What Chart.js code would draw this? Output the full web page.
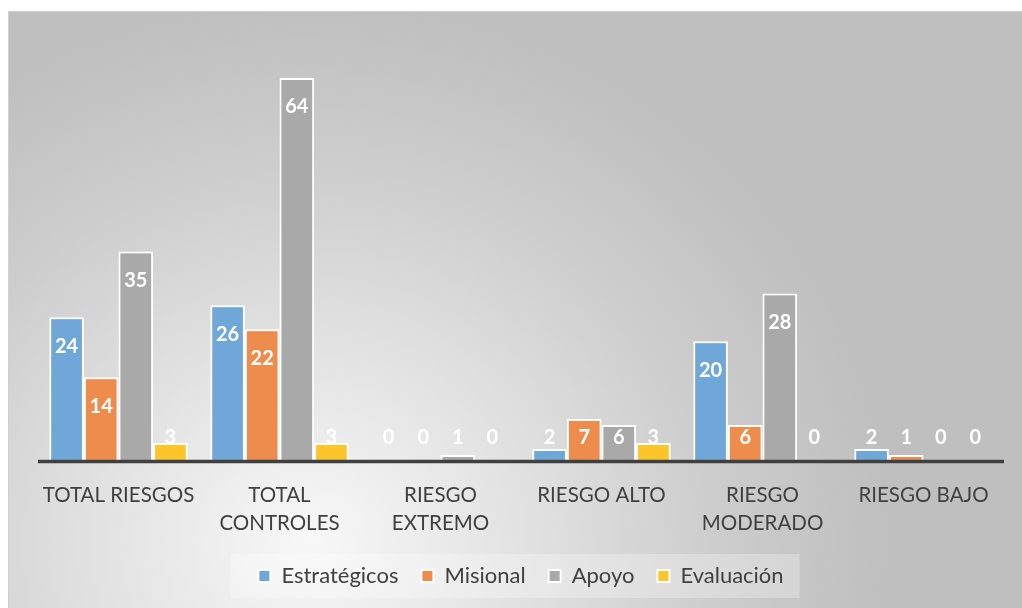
<!DOCTYPE html>
<html>
<head>
<meta charset="utf-8">
<script src="https://cdn.jsdelivr.net/npm/chart.js@4.4.1/dist/chart.umd.min.js"></script>
<style>
  html, body { margin: 0; padding: 0; background: #ffffff; }
  #wrap {
    position: absolute; left: 8px; top: 11px; width: 1014px; height: 597px;
    box-sizing: border-box;
    border-left: 1px solid #d0d0d0; border-top: 1px solid #d0d0d0;
    background: radial-gradient(ellipse 580px 540px at 300px 530px, #f8f8f8 0%, #e3e3e3 35%, #cdcdcd 70%, #bfbfbf 100%);
    background-color: #bfbfbf;
  }
  canvas { display: block; }
</style>
</head>
<body>
<div id="wrap"><canvas id="c" width="1013" height="596"></canvas></div>
<script>
const categories = [
  'TOTAL RIESGOS',
  ['TOTAL', 'CONTROLES'],
  ['RIESGO', 'EXTREMO'],
  'RIESGO ALTO',
  ['RIESGO', 'MODERADO'],
  'RIESGO BAJO'
];
const seriesNames = ['Estratégicos', 'Misional', 'Apoyo', 'Evaluación'];
const estrategicos = [24, 26, 0, 2, 20, 2];
const misional     = [14, 22, 0, 7, 6, 1];
const apoyo        = [35, 64, 1, 6, 28, 0];
const evaluacion   = [3, 3, 0, 3, 0, 0];
const seriesColors = ['#6fa7d8', '#ee8c4d', '#a9a9a9', '#fcc52a'];

const allSeries = [estrategicos, misional, apoyo, evaluacion];

const legendBg = {
  id: 'legendBg',
  beforeDraw(chart) {
    const lg = chart.legend;
    if (!lg || !lg.legendHitBoxes || !lg.legendHitBoxes.length) return;
    const hb = lg.legendHitBoxes;
    let l = Infinity, r = -Infinity;
    hb.forEach(h => { l = Math.min(l, h.left); r = Math.max(r, h.left + h.width); });
    const cy = hb[0].top + hb[0].height / 2;
    const ctx = chart.ctx;
    ctx.save();
    ctx.fillStyle = 'rgba(255,255,255,0.28)';
    ctx.fillRect(l - 28, cy - 22, (r - l) + 44, 44);
    ctx.restore();
  }
};

const axisLine = {
  id: 'axisLine',
  afterDatasetsDraw(chart) {
    const a = chart.chartArea;
    const ctx = chart.ctx;
    ctx.save();
    ctx.strokeStyle = '#404040';
    ctx.lineWidth = 3.5;
    ctx.beginPath();
    ctx.moveTo(a.left, a.bottom + 0.5);
    ctx.lineTo(a.right, a.bottom + 0.5);
    ctx.stroke();
    ctx.restore();
  }
};

const barLabels = {
  id: 'barLabels',
  afterDatasetsDraw(chart) {
    const ctx = chart.ctx;
    ctx.save();
    ctx.font = 'bold 20px Lato, "Open Sans", sans-serif';
    ctx.fillStyle = '#ffffff';
    ctx.textAlign = 'center';
    ctx.textBaseline = 'middle';
    chart.data.datasets.forEach((ds, di) => {
      const meta = chart.getDatasetMeta(di);
      meta.data.forEach((bar, i) => {
        const v = ds.data[i];
        const y = Math.min(bar.y + 29, bar.base - 23);
        ctx.fillText(String(v), bar.x, y);
      });
    });
    ctx.restore();
  }
};

new Chart(document.getElementById('c'), {
  type: 'bar',
  data: {
    labels: categories,
    datasets: allSeries.map((d, i) => ({
      label: seriesNames[i],
      data: d,
      backgroundColor: seriesColors[i],
      borderColor: '#ffffff',
      borderWidth: 2,
      borderSkipped: 'bottom',
      barPercentage: 1.0,
      categoryPercentage: 0.86
    }))
  },
  options: {
    responsive: false,
    animation: false,
    layout: { padding: { left: 29, right: 18, top: 30, bottom: 11 } },
    scales: {
      x: {
        grid: { display: false, drawTicks: false },
        border: { display: false },
        ticks: {
          color: '#404040',
          font: { family: 'Lato, "Open Sans", sans-serif', size: 20.5, lineHeight: 1.37 },
          padding: 20,
          maxRotation: 0,
          autoSkip: false
        },
        afterFit(scale) { scale.height = 81; }
      },
      y: {
        display: false,
        min: 0,
        max: 70
      }
    },
    plugins: {
      tooltip: { enabled: false },
      legend: {
        position: 'bottom',
        labels: {
          color: '#404040',
          font: { family: 'Lato, "Open Sans", sans-serif', size: 22 },
          boxWidth: 12,
          boxHeight: 12,
          padding: 23
        }
      }
    }
  },
  plugins: [legendBg, axisLine, barLabels]
});
</script>
</body>
</html>
